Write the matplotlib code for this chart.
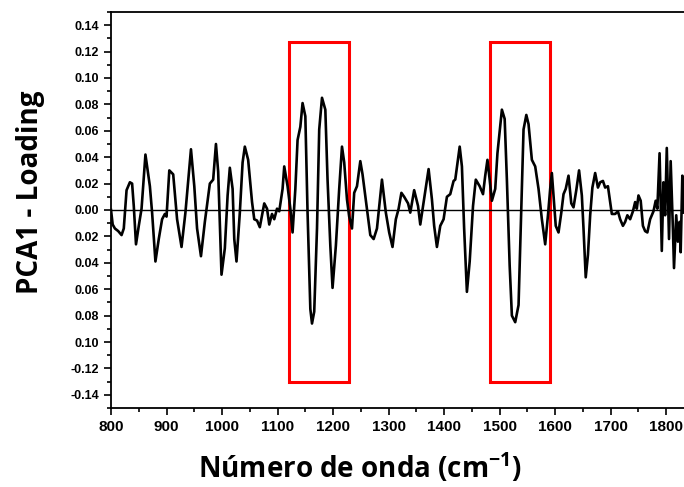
import matplotlib.pyplot as plt
from matplotlib.patches import Rectangle
from matplotlib.ticker import MultipleLocator

# wavenumber (cm-1) and PCA1 loading
wavenumber = [
    800, 803, 807, 813, 819, 823, 828, 834, 838, 841, 845, 850, 855, 862, 870,
    874, 880, 886, 892, 897, 900, 905, 912, 919, 927, 934, 944, 950, 955, 962,
    969, 978, 984, 989, 993, 996, 999, 1005, 1010, 1014, 1019, 1022, 1026, 1032,
    1037, 1041, 1047, 1054, 1058, 1063, 1068, 1076, 1081, 1085, 1090, 1094, 1099,
    1103, 1109, 1112, 1118, 1123, 1127, 1132, 1136, 1141, 1145, 1150, 1154, 1159,
    1162, 1166, 1171, 1175, 1180, 1186, 1190, 1195, 1199, 1205, 1211, 1216, 1220,
    1225, 1229, 1234, 1238, 1243, 1249, 1253, 1261, 1267, 1273, 1279, 1288, 1295,
    1301, 1307, 1313, 1318, 1323, 1328, 1335, 1339, 1346, 1353, 1357, 1363, 1372,
    1378, 1382, 1387, 1393, 1399, 1405, 1411, 1417, 1420, 1428, 1432, 1436, 1441,
    1446, 1452, 1457, 1464, 1470, 1474, 1478, 1482, 1486, 1492, 1496, 1504, 1509,
    1513, 1518, 1522, 1528, 1534, 1538, 1543, 1548, 1552, 1558, 1564, 1570, 1576,
    1582, 1587, 1591, 1594, 1597, 1601, 1606, 1611, 1615, 1619, 1624, 1629, 1633,
    1638, 1643, 1648, 1651, 1655, 1659, 1663, 1667, 1672, 1677, 1681, 1686, 1690,
    1695, 1699, 1702, 1708, 1713, 1717, 1722, 1726, 1730, 1735, 1740, 1744, 1747,
    1750, 1754, 1758, 1762, 1766, 1771, 1777, 1781, 1784, 1788, 1792, 1795, 1798,
    1801, 1805, 1808, 1812, 1814, 1818, 1821, 1824, 1826, 1829, 1831,
]
loading = [
    0.000, -0.011, -0.014, -0.016, -0.019, -0.014, 0.015, 0.021, 0.020, 0.003,
    -0.026, -0.012, 0.001, 0.042, 0.018, -0.002, -0.039, -0.022, -0.007, -0.003,
    -0.005, 0.030, 0.027, -0.007, -0.028, -0.002, 0.046, 0.018, -0.014, -0.035,
    -0.009, 0.020, 0.023, 0.050, 0.029, -0.009, -0.049, -0.029, 0.011, 0.032,
    0.016, -0.022, -0.039, -0.002, 0.036, 0.048, 0.038, 0.006, -0.007, -0.008,
    -0.013, 0.005, 0.001, -0.011, -0.003, -0.007, 0.001, -0.001, 0.016, 0.033,
    0.018, 0.001, -0.017, 0.016, 0.053, 0.063, 0.081, 0.071, -0.002, -0.075,
    -0.086, -0.077, -0.014, 0.061, 0.085, 0.076, 0.023, -0.027, -0.059, -0.027,
    0.016, 0.048, 0.036, 0.008, -0.005, -0.014, 0.013, 0.018, 0.037, 0.027,
    0.001, -0.019, -0.022, -0.014, 0.023, -0.002, -0.017, -0.028, -0.007, 0.001,
    0.013, 0.010, 0.005, -0.002, 0.015, 0.003, -0.011, 0.006, 0.031, 0.008,
    -0.012, -0.028, -0.012, -0.007, 0.010, 0.012, 0.022, 0.023, 0.048, 0.033,
    -0.014, -0.062, -0.039, 0.003, 0.023, 0.018, 0.012, 0.026, 0.038, 0.023,
    0.007, 0.016, 0.043, 0.076, 0.069, 0.023, -0.042, -0.080, -0.085, -0.072,
    -0.014, 0.061, 0.072, 0.065, 0.038, 0.033, 0.016, -0.007, -0.026, -0.004,
    0.016, 0.028, 0.011, -0.012, -0.017, -0.002, 0.012, 0.016, 0.026, 0.005,
    0.002, 0.015, 0.030, 0.011, -0.014, -0.051, -0.034, -0.004, 0.017, 0.028,
    0.017, 0.021, 0.022, 0.017, 0.018, 0.006, -0.003, -0.003, -0.001, -0.007,
    -0.012, -0.009, -0.004, -0.007, -0.001, 0.006, 0.001, 0.011, 0.007, -0.012,
    -0.016, -0.017, -0.007, -0.001, 0.007, 0.001, 0.043, -0.031, 0.021, -0.004,
    0.047, -0.022, 0.037, -0.014, -0.044, -0.004, -0.024, -0.009, -0.032, 0.026,
    -0.002,
]

# highlighted regions (x start, x end) and their vertical span
boxes = [(1120, 1228), (1483, 1591)]
box_y = (-0.130, 0.127)

yticks = [-0.14, -0.12, -0.10, -0.08, -0.06, -0.04, -0.02, 0.00,
          0.02, 0.04, 0.06, 0.08, 0.10, 0.12, 0.14]
ytick_labels = ["-0.14", "-0.12", "0.10", "0.08", "0.06", "0.04", "0.02", "0.00",
                "0.02", "0.04", "0.06", "0.08", "0.10", "0.12", "0.14"]
xticks = [800, 900, 1000, 1100, 1200, 1300, 1400, 1500, 1600, 1700, 1800]

plt.rcParams["mathtext.fontset"] = "custom"
plt.rcParams["mathtext.rm"] = "Open Sans:bold"
plt.rcParams["mathtext.bf"] = "Open Sans:bold"

fig = plt.figure(figsize=(6.84, 4.87), dpi=100)
ax = fig.add_axes([0.1623, 0.1622, 0.8377, 0.8132])

ax.plot(wavenumber, loading, color="black", lw=1.9, solid_joinstyle="round")
ax.axhline(0, color="black", lw=1)

for x0, x1 in boxes:
    ax.add_patch(Rectangle((x0, box_y[0]), x1 - x0, box_y[1] - box_y[0],
                           fill=False, edgecolor="#ff0000", lw=2.2))

ax.set_xlim(800, 1832)
ax.set_ylim(-0.15, 0.15)

ax.set_xticks(xticks)
ax.set_xticklabels([str(t) for t in xticks], fontsize=11, fontweight="bold",
                   family="Liberation Sans")
ax.set_yticks(yticks)
ax.set_yticklabels(ytick_labels, fontsize=9, fontweight="bold",
                   family="Liberation Sans")
ax.xaxis.set_minor_locator(MultipleLocator(50))
ax.yaxis.set_minor_locator(MultipleLocator(0.01))
ax.tick_params(which="major", direction="out", length=5, width=1.2)
ax.tick_params(which="minor", direction="out", length=3, width=1.2)
ax.tick_params(top=False, right=False, which="both")

for side in ["left", "bottom", "top"]:
    ax.spines[side].set_linewidth(1.3)
ax.spines["right"].set_visible(False)

ax.set_xlabel("Número de onda (cm$^{-1}$)", fontsize=20, fontweight="bold",
              family="Open Sans")
ax.set_ylabel("PCA1 - Loading", fontsize=20, fontweight="bold",
              family="Open Sans")
ax.xaxis.set_label_coords(0.435, -0.108)
ax.yaxis.set_label_coords(-0.115, 0.545)

fig.savefig("out.png", dpi=100)
